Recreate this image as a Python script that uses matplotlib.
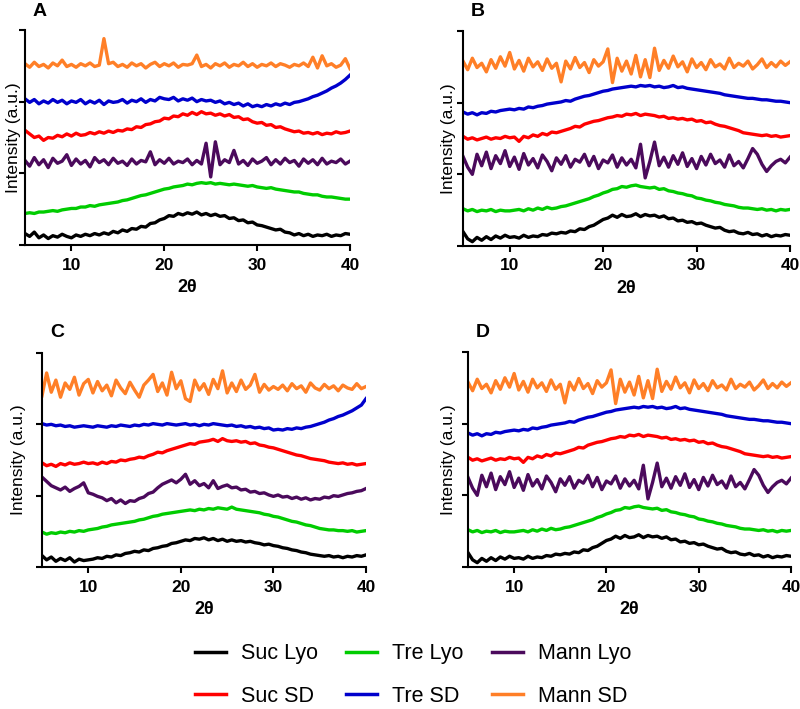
import numpy as np
import matplotlib
matplotlib.use("Agg")
import matplotlib.pyplot as plt

plt.rcParams['font.family'] = ['Liberation Sans', 'DejaVu Sans']

# 2-theta sampling (5 -> 40 deg, every 0.5 deg)
two_theta = np.linspace(5, 40, 71)

labels = ['Suc Lyo', 'Suc SD', 'Tre Lyo', 'Tre SD', 'Mann Lyo', 'Mann SD']
colors = ['#000000', '#FF0000', '#00CC00', '#0000CC', '#4B0A5C', '#FF7F27']

# intensities, offset stacked, in 1/100 of a tick step
# ---- panel A
a_suc_lyo = [16, 12, 18, 10, 14, 9, 13, 11, 15, 12, 10,
             14, 12, 15, 13, 16, 14, 17, 15, 19, 17,
             21, 19, 23, 22, 26, 25, 30, 31, 35, 37,
             41, 40, 44, 42, 45, 43, 46, 42, 44, 41,
             43, 40, 41, 37, 38, 34, 35, 31, 32, 28,
             27, 25, 23, 21, 22, 18, 17, 14, 16, 13,
             15, 12, 14, 13, 15, 12, 14, 13, 16, 15]
a_tre_lyo = [44, 45, 44, 46, 46, 47, 48, 47, 49, 50, 51,
             51, 53, 53, 55, 54, 56, 57, 58, 59, 60,
             62, 63, 65, 67, 69, 70, 72, 74, 76, 78,
             79, 81, 82, 83, 85, 84, 86, 87, 86, 87,
             85, 86, 85, 84, 85, 84, 83, 82, 83, 81,
             80, 79, 80, 78, 77, 76, 75, 74, 74, 72,
             71, 70, 70, 68, 67, 67, 66, 65, 64, 64]
a_mann_lyo = [118, 110, 122, 112, 119, 108, 121, 114, 117, 126, 111,
              120, 113, 118, 109, 122, 115, 119, 112, 121, 114,
              117, 111, 120, 113, 118, 116, 130, 112, 119, 114,
              121, 113, 117, 115, 120, 112, 118, 113, 142, 95,
              144, 112, 119, 115, 132, 113, 118, 111, 120, 114,
              117, 122, 112, 119, 113, 121, 115, 118, 110, 120,
              114, 119, 112, 121, 113, 117, 115, 120, 113, 117]
a_suc_sd = [160, 155, 150, 152, 146, 150, 149, 153, 151, 155, 152,
            156, 153, 154, 157, 155, 158, 156, 159, 157, 160,
            159, 162, 161, 165, 164, 168, 169, 172, 173, 177,
            176, 180, 179, 183, 181, 185, 182, 186, 183, 184,
            181, 183, 180, 182, 178, 179, 175, 176, 172, 170,
            171, 167, 168, 164, 165, 162, 160, 158, 159, 156,
            157, 155, 157, 154, 156, 155, 158, 156, 157, 159]
a_tre_sd = [204, 199, 203, 197, 201, 198, 203, 199, 202, 197, 201,
            199, 203, 197, 201, 198, 202, 196, 201, 199, 200,
            203, 198, 202, 200, 204, 199, 203, 201, 206, 204,
            203, 206, 201, 204, 202, 205, 200, 203, 201, 202,
            199, 201, 197, 199, 196, 198, 194, 197, 193, 195,
            193, 196, 194, 197, 195, 198, 196, 199, 200, 202,
            204, 207, 209, 212, 215, 219, 222, 226, 231, 237]
a_mann_sd = [253, 248, 255, 249, 252, 247, 254, 250, 258, 249, 252,
             248, 253, 250, 254, 249, 251, 288, 253, 255, 249,
             252, 248, 254, 250, 253, 247, 252, 255, 249, 253,
             250, 254, 248, 252, 251, 253, 265, 249, 252, 247,
             253, 250, 254, 248, 252, 250, 255, 249, 253, 248,
             252, 250, 254, 249, 253, 251, 248, 252, 250, 254,
             249, 262, 247, 264, 250, 253, 248, 251, 260, 246]

# ---- panel B (panel D shows the same patterns)
b_suc_lyo = [20, 10, 6, 12, 8, 13, 9, 14, 11, 15, 12,
             13, 11, 15, 12, 14, 13, 16, 15, 18, 17,
             19, 18, 21, 20, 24, 23, 27, 29, 33, 37,
             39, 43, 40, 44, 41, 42, 45, 41, 44, 42,
             43, 40, 42, 38, 39, 35, 36, 33, 34, 31,
             32, 29, 27, 25, 26, 22, 20, 21, 18, 17,
             19, 16, 17, 14, 16, 13, 15, 14, 16, 15]
b_tre_lyo = [52, 49, 51, 48, 50, 49, 51, 48, 50, 49, 49,
             50, 51, 49, 52, 50, 53, 51, 54, 52, 53,
             55, 56, 58, 60, 62, 64, 66, 69, 71, 74,
             76, 79, 80, 83, 82, 84, 85, 83, 82, 81,
             82, 79, 80, 77, 76, 74, 73, 71, 70, 67,
             66, 64, 63, 61, 60, 58, 57, 56, 54, 53,
             53, 52, 51, 52, 50, 51, 49, 51, 50, 51]
b_mann_lyo = [125, 110, 100, 128, 112, 131, 108, 126, 115, 133, 111,
              124, 107, 129, 113, 122, 109, 127, 118, 105, 123,
              114, 126, 110, 121, 117, 128, 112, 125, 108, 120,
              116, 127, 110, 123, 113, 121, 109, 142, 95, 118,
              145, 112, 124, 110, 126, 114, 130, 111, 122, 108,
              125, 113, 128, 115, 120, 110, 127, 112, 118, 109,
              122, 136, 128, 114, 104, 112, 118, 121, 116, 124]
b_suc_sd = [153, 149, 151, 148, 150, 152, 149, 151, 150, 153, 151,
            152, 146, 153, 151, 155, 153, 157, 155, 159, 158,
            160, 162, 164, 167, 166, 170, 172, 174, 175, 177,
            179, 180, 182, 181, 184, 183, 185, 182, 184, 183,
            182, 180, 181, 178, 179, 177, 178, 176, 177, 174,
            175, 172, 173, 170, 168, 167, 165, 163, 161, 158,
            157, 156, 155, 154, 155, 153, 154, 152, 153, 154]
b_tre_sd = [187, 184, 186, 183, 186, 185, 188, 187, 189, 190, 191,
            190, 192, 191, 194, 193, 195, 196, 198, 199, 200,
            201, 203, 202, 205, 207, 209, 210, 212, 214, 216,
            217, 219, 220, 221, 222, 223, 222, 224, 223, 224,
            222, 223, 221, 222, 224, 221, 222, 220, 219, 218,
            217, 216, 215, 214, 213, 211, 210, 209, 208, 207,
            206, 206, 205, 204, 204, 203, 202, 202, 201, 200]
b_mann_sd = [258, 246, 262, 249, 255, 243, 260, 248, 264, 251, 270,
             247, 259, 244, 262, 250, 257, 245, 261, 248, 255,
             229, 258, 247, 263, 249, 256, 242, 260, 251, 257,
             275, 228, 262, 244, 258, 240, 266, 236, 260, 235,
             276, 245, 259, 248, 265, 250, 257, 243, 261, 249,
             256, 246, 260, 250, 254, 247, 262, 249, 255, 251,
             258, 247, 253, 261, 249, 256, 250, 258, 252, 257]

# ---- panel C
c_suc_lyo = [16, 10, 14, 8, 12, 9, 13, 7, 11, 9, 10,
             11, 13, 12, 15, 14, 17, 16, 19, 20, 22,
             21, 24, 23, 26, 27, 29, 30, 33, 34, 36,
             38, 37, 40, 39, 41, 38, 40, 37, 39, 36,
             38, 36, 37, 35, 36, 34, 33, 31, 32, 30,
             29, 27, 26, 24, 23, 21, 20, 18, 17, 16,
             15, 16, 14, 15, 13, 15, 14, 16, 15, 17]
c_tre_lyo = [49, 46, 48, 47, 49, 48, 50, 49, 51, 50, 52,
             53, 54, 56, 57, 59, 60, 61, 62, 63, 64,
             66, 67, 69, 71, 72, 74, 75, 76, 77, 78,
             79, 80, 79, 81, 80, 82, 81, 83, 82, 81,
             84, 81, 80, 79, 78, 77, 76, 74, 73, 71,
             70, 68, 66, 64, 63, 61, 59, 58, 56, 54,
             53, 52, 52, 51, 51, 50, 51, 49, 50, 51]
c_mann_lyo = [126, 120, 114, 111, 108, 112, 106, 110, 113, 118, 104,
              102, 99, 97, 93, 96, 90, 94, 89, 93, 92,
              96, 98, 103, 105, 111, 116, 119, 122, 118, 123,
              130, 116, 121, 114, 117, 111, 121, 110, 113, 115,
              111, 112, 108, 109, 105, 106, 103, 104, 101, 99,
              101, 98, 99, 96, 98, 95, 97, 94, 96, 95,
              98, 97, 100, 99, 101, 103, 104, 106, 107, 110]
c_suc_sd = [146, 142, 144, 141, 145, 143, 146, 144, 145, 147, 145,
            146, 144, 147, 145, 148, 147, 150, 149, 151, 152,
            154, 153, 156, 158, 161, 160, 163, 165, 167, 169,
            171, 173, 172, 175, 176, 177, 179, 176, 180, 177,
            176, 177, 175, 176, 173, 174, 171, 170, 168, 167,
            165, 163, 161, 159, 157, 156, 154, 152, 151, 150,
            149, 147, 146, 145, 146, 144, 145, 143, 144, 145]
c_tre_sd = [201, 199, 200, 198, 199, 197, 198, 196, 197, 198, 197,
            196, 198, 197, 196, 198, 197, 199, 198, 197, 199,
            198, 200, 199, 201, 200, 199, 201, 200, 199, 200,
            201, 199, 200, 198, 200, 199, 201, 200, 199, 198,
            199, 197, 198, 196, 197, 195, 196, 194, 195, 192,
            193, 192, 194, 193, 195, 194, 196, 197, 199, 201,
            203, 206, 208, 211, 213, 216, 219, 223, 227, 236]
c_mann_sd = [240, 272, 245, 262, 238, 258, 249, 266, 241, 257, 263,
             244, 260, 247, 255, 240, 262, 251, 243, 259, 248,
             238, 255, 262, 270, 246, 258, 241, 273, 250, 261,
             236, 232, 262, 248, 257, 242, 263, 250, 275, 244,
             258, 246, 262, 249, 255, 270, 245, 256, 248, 253,
             249, 255, 247, 257, 250, 254, 245, 258, 251, 248,
             256, 250, 254, 247, 255, 251, 249, 257, 250, 253]

panel_a = [a_suc_lyo, a_suc_sd, a_tre_lyo, a_tre_sd, a_mann_lyo, a_mann_sd]
panel_b = [b_suc_lyo, b_suc_sd, b_tre_lyo, b_tre_sd, b_mann_lyo, b_mann_sd]
panel_c = [c_suc_lyo, c_suc_sd, c_tre_lyo, c_tre_sd, c_mann_lyo, c_mann_sd]
panel_d = panel_b

fig = plt.figure(figsize=(8, 7.09), dpi=100)

# axes boxes in pixels (left, top, right, bottom), y-label right edge x, letter y
boxes = {'A': (25, 30, 350, 245, 21, 12), 'B': (463, 31, 790, 246, 456, 12),
         'C': (42, 353, 366, 567, 26, 333), 'D': (468, 352, 791, 567, 456, 333)}
panels = {'A': panel_a, 'B': panel_b, 'C': panel_c, 'D': panel_d}

W, H = 800, 709
for key in ['A', 'B', 'C', 'D']:
    l, t, r, b, ylx, lety = boxes[key]
    ax = fig.add_axes([l / W, 1 - b / H, (r - l) / W, (b - t) / H])
    for series, col, lab in zip(panels[key], colors, labels):
        ax.plot(two_theta, np.array(series) / 100.0, color=col, lw=2.4, label=lab)
    ax.set_xlim(5, 40)
    ax.set_ylim(0, 3)
    ax.set_xticks([10, 20, 30, 40])
    ax.set_yticks([0, 1, 2, 3])
    ax.set_yticklabels([])
    for s in ['top', 'right']:
        ax.spines[s].set_visible(False)
    for s in ['left', 'bottom']:
        ax.spines[s].set_linewidth(1.5)
    ax.tick_params(direction='out', length=4, width=1.5, labelsize=12.5, pad=5)
    for lbl in ax.get_xticklabels():
        lbl.set_fontweight('bold')
    ax.set_xlabel('2θ', fontsize=13, fontweight='bold', labelpad=5)
    ax.set_ylabel('Intensity (a.u.)', fontsize=12.5)
    ax.yaxis.set_label_coords((ylx - l) / (r - l), 0.5)
    fig.text((l + 8) / W, 1 - lety / H, key,
             fontsize=14, fontweight='bold', ha='left', va='center')

handles = [plt.Line2D([], [], color=c, lw=2.5) for c in colors]
fig.legend(handles, labels, loc='center', bbox_to_anchor=(413 / W, 1 - 675 / H),
           ncol=3, frameon=False, fontsize=15.5, handlelength=1.45,
           handletextpad=0.7, columnspacing=1.3, labelspacing=1.0,
           borderpad=0.2)

fig.savefig('out.png', dpi=100)
